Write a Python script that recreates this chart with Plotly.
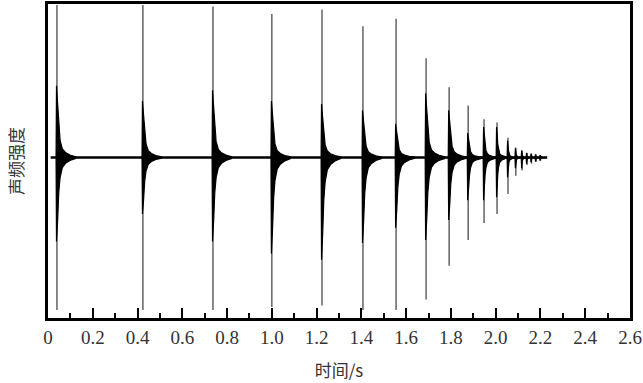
import plotly.graph_objects as go

# Impact times (s)
bounce_t = [0.04, 0.424, 0.737, 1.0, 1.224, 1.407, 1.555, 1.689, 1.792, 1.877,
            1.948, 2.006, 2.055, 2.09, 2.118, 2.14, 2.16, 2.18, 2.2]
# Thin peak line extents (relative amplitude)
peak_top = [1.0, 1.0, 0.99, 0.94, 0.97, 0.86, 0.91, 0.65, 0.46, 0.34,
            0.25, 0.23, 0.13, 0.065, 0.045, 0.03, 0.025, 0.02, 0.015]
peak_bot = [-1.0, -1.0, -1.0, -0.98, -0.97, -1.0, -1.0, -0.93, -0.71, -0.54,
            -0.43, -0.37, -0.24, -0.12, -0.085, -0.05, -0.04, -0.03, -0.02]
# Dense (black) core extents
core_top = [0.47, 0.37, 0.44, 0.37, 0.35, 0.31, 0.22, 0.42, 0.31, 0.16,
            0.2, 0.2, 0.11, 0.06, 0.045, 0.03, 0.025, 0.02, 0.015]
core_bot = [-0.55, -0.37, -0.55, -0.63, -0.67, -0.56, -0.46, -0.54, -0.41, -0.28,
            -0.28, -0.26, -0.13, -0.07, -0.07, -0.04, -0.03, -0.025, -0.02]
# Decay profile of the dense burst (offset in s, relative height)
env_dt = [0.0, 0.005, 0.01, 0.016, 0.026, 0.04, 0.06, 0.085]
env_rel = [1.0, 0.75, 0.42, 0.24, 0.12, 0.07, 0.035, 0.012]

baseline_t = [0.012, 2.23]
baseline_v = [0.0, 0.0]

x_ticks = [0, 0.2, 0.4, 0.6, 0.8, 1.0, 1.2, 1.4, 1.6, 1.8, 2.0, 2.2, 2.4, 2.6]
x_ticklabels = ["0", "0.2", "0.4", "0.6", "0.8", "1.0", "1.2", "1.4", "1.6",
                "1.8", "2.0", "2.2", "2.4", "2.6"]

fig = go.Figure()

# baseline
fig.add_trace(go.Scatter(x=baseline_t, y=baseline_v, mode="lines",
                         line=dict(color="black", width=2.6),
                         hoverinfo="skip", showlegend=False))

# thin peak lines
sx, sy = [], []
for t, a, b in zip(bounce_t, peak_top, peak_bot):
    sx += [t, t, None]
    sy += [a, b, None]
fig.add_trace(go.Scatter(x=sx, y=sy, mode="lines",
                         line=dict(color="#4a4a4a", width=1.3),
                         hoverinfo="skip", showlegend=False))

# dense bursts
for i, t in enumerate(bounce_t):
    scale = min(1.0, (bounce_t[i + 1] - t) / 0.09) if i + 1 < len(bounce_t) else 0.3
    xs = [t - 0.004]
    ys = [0.0]
    for d, r in zip(env_dt, env_rel):
        xs.append(t - 0.002 + d * scale)
        ys.append(core_top[i] * r)
    for d, r in zip(reversed(env_dt), reversed(env_rel)):
        xs.append(t - 0.002 + d * scale)
        ys.append(core_bot[i] * r)
    xs.append(t - 0.004)
    ys.append(0.0)
    fig.add_trace(go.Scatter(x=xs, y=ys, mode="lines", fill="toself",
                             fillcolor="black", line=dict(color="black", width=1.2),
                             hoverinfo="skip", showlegend=False))

fig.update_layout(
    width=643, height=383,
    margin=dict(l=48, r=13, t=4, b=65),
    plot_bgcolor="white", paper_bgcolor="white",
    font=dict(family="Liberation Serif, Times New Roman, serif", color="#333"),
    xaxis=dict(range=[0, 2.6], tickvals=x_ticks, ticktext=x_ticklabels,
               ticks="inside", ticklen=10, tickwidth=2, tickcolor="black",
               minor=dict(ticks="inside", ticklen=5, tickwidth=1.5,
                          tickcolor="black", dtick=0.1, tick0=0, showgrid=False),
               showline=True, linecolor="black", linewidth=3, mirror=True,
               showgrid=False, zeroline=False, automargin=False,
               tickfont=dict(size=19, color="#333"),
               title=dict(text="时间/s", standoff=19,
                          font=dict(family="Noto Sans CJK SC", size=17, color="#333"))),
    yaxis=dict(range=[-1.052, 1.006], showticklabels=False, ticks="",
               showline=True, linecolor="black", linewidth=3, mirror=True,
               showgrid=False, zeroline=False, automargin=False,
               title=dict(text="声频强度", standoff=18,
                          font=dict(family="Noto Sans CJK SC", size=17, color="#333"))),
)

fig.write_html("out.html", config={"displayModeBar": False},
               post_script="document.body.style.margin='0';document.body.style.padding='0';")
